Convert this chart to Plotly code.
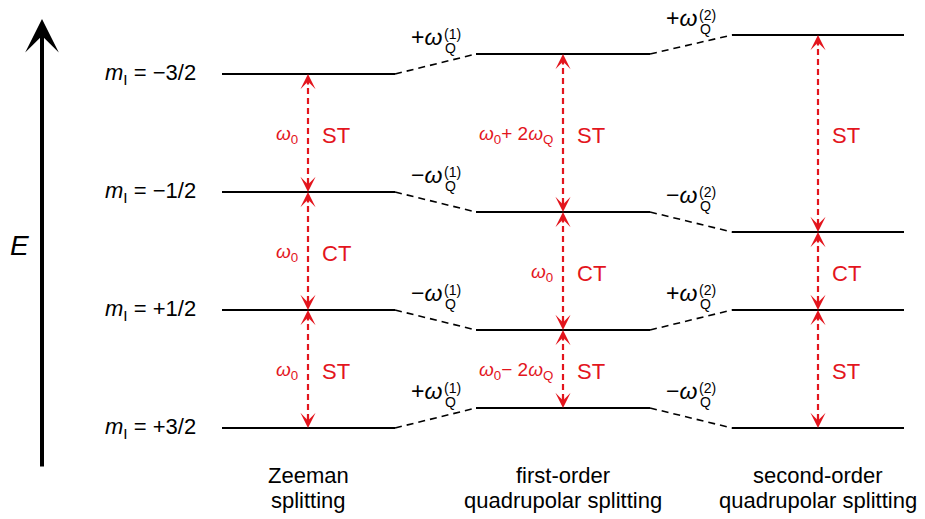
import plotly.graph_objects as go

# ---------------- data ----------------
W, H = 925, 519
columns = [["Zeeman", "splitting"],
           ["first-order", "quadrupolar splitting"],
           ["second-order", "quadrupolar splitting"]]
m_labels = ["−3/2", "−1/2", "+1/2", "+3/2"]
# energies (arbitrary units, up = higher energy)
zeeman = [445, 327, 209, 91]
first_order = [465, 307, 189, 111]
second_order = [484, 287, 209, 91]
transitions = ["ST", "CT", "ST"]
zeeman_freq = ["ω0", "ω0", "ω0"]
first_freq = ["ω0+ 2ωQ", "ω0", "ω0− 2ωQ"]
shift1_sign = ["+", "−", "−", "+"]
shift2_sign = ["+", "−", "+", "−"]

# ---------------- layout helpers ----------------
col_x = [(222, 395), (476, 650), (732, 904)]
arrow_x = [308, 563, 818]
levels = [zeeman, first_order, second_order]
RED = "#e3151d"
FONT = "Arial, Liberation Sans, sans-serif"

def wfmt(s):
    return s.replace("ω0", "<i>ω</i><sub>0</sub>").replace("ωQ", "<i>ω</i><sub>Q</sub>")

fig = go.Figure()
ann = []

# level lines
for (x0, x1), lev in zip(col_x, levels):
    for e in lev:
        fig.add_trace(go.Scatter(x=[x0, x1], y=[e, e], mode="lines",
                                 line=dict(color="black", width=2), hoverinfo="skip"))

# dashed connectors
for c in range(2):
    xa = col_x[c][1]
    xb = col_x[c + 1][0]
    for ea, eb in zip(levels[c], levels[c + 1]):
        fig.add_trace(go.Scatter(x=[xa, xb], y=[ea, eb], mode="lines",
                                 line=dict(color="black", width=1.6, dash="7px,5px"),
                                 hoverinfo="skip"))

# red transitions
freq_lists = [zeeman_freq, first_freq, None]
for c, lev in enumerate(levels):
    xa = arrow_x[c]
    for i in range(3):
        top, bot = lev[i], lev[i + 1]
        fig.add_trace(go.Scatter(x=[xa, xa], y=[top - 4, bot + 4], mode="lines",
                                 line=dict(color=RED, width=2.2, dash="6px,4px"),
                                 hoverinfo="skip"))
        ann.append(dict(x=xa, y=top, xref="x", yref="y", ax=0, ay=12, axref="pixel",
                        ayref="pixel", text="", showarrow=True, arrowhead=3,
                        arrowsize=1.15, arrowwidth=2.2, arrowcolor=RED, standoff=0))
        ann.append(dict(x=xa, y=bot, xref="x", yref="y", ax=0, ay=-12, axref="pixel",
                        ayref="pixel", text="", showarrow=True, arrowhead=3,
                        arrowsize=1.15, arrowwidth=2.2, arrowcolor=RED, standoff=0))
        mid = (top + bot) / 2
        ann.append(dict(x=xa + 12, y=mid - 2, xref="x", yref="y", text=transitions[i],
                        showarrow=False, xanchor="left", yanchor="middle",
                        font=dict(family=FONT, size=22, color=RED)))
        fl = freq_lists[c]
        if fl is not None:
            ann.append(dict(x=xa - 8, y=mid - 2, xref="x", yref="y", text=wfmt(fl[i]),
                            showarrow=False, xanchor="right", yanchor="middle",
                            font=dict(family=FONT, size=19, color=RED)))

# m_I labels
for lab, e in zip(m_labels, zeeman):
    ann.append(dict(x=198, y=e, xref="x", yref="y",
                    text="<i>m</i><sub>I</sub> = " + lab, showarrow=False,
                    xanchor="right", yanchor="middle",
                    font=dict(family=FONT, size=22, color="black")))

# quadrupolar shift labels (stacked sub/superscript)
for c, (signs, order, xend) in enumerate([(shift1_sign, "(1)", 443), (shift2_sign, "(2)", 698)]):
    for i, s in enumerate(signs):
        mid = (levels[c][i] + levels[c + 1][i]) / 2
        yc = mid + 25
        ann.append(dict(x=xend + 1, y=yc + 2, xref="x", yref="y", text=s + "<i>ω</i>",
                        showarrow=False, xanchor="right", yanchor="middle",
                        font=dict(family=FONT, size=23, color="black")))
        ann.append(dict(x=xend, y=yc - 9, xref="x", yref="y", text="Q",
                        showarrow=False, xanchor="left", yanchor="middle",
                        font=dict(family=FONT, size=14, color="black")))
        ann.append(dict(x=xend - 1, y=yc + 5, xref="x", yref="y", text=order,
                        showarrow=False, xanchor="left", yanchor="middle",
                        font=dict(family=FONT, size=14, color="black")))

# column titles (two lines each)
for xa, lines in zip(arrow_x, columns):
    for k, t in enumerate(lines):
        ann.append(dict(x=xa, y=H - (475 + 25 * k), xref="x", yref="y", text=t,
                        showarrow=False, xanchor="center", yanchor="middle",
                        font=dict(family=FONT, size=22, color="black")))

# energy axis arrow
ann.append(dict(x=42, y=H - 19, xref="x", yref="y", ax=42, ay=H - 468, axref="x",
                ayref="y", text="", showarrow=True, arrowhead=3, arrowsize=1.4,
                arrowwidth=4, arrowcolor="black", standoff=0))
ann.append(dict(x=19, y=H - 245, xref="x", yref="y", text="<i>E</i>", showarrow=False,
                xanchor="center", yanchor="middle",
                font=dict(family=FONT, size=28, color="black")))

fig.update_layout(
    width=W, height=H, margin=dict(l=0, r=0, t=0, b=0),
    paper_bgcolor="white", plot_bgcolor="white", showlegend=False,
    xaxis=dict(range=[0, W], visible=False, fixedrange=True),
    yaxis=dict(range=[0, H], visible=False, fixedrange=True),
    annotations=ann,
)
fig.write_html("out.html")
